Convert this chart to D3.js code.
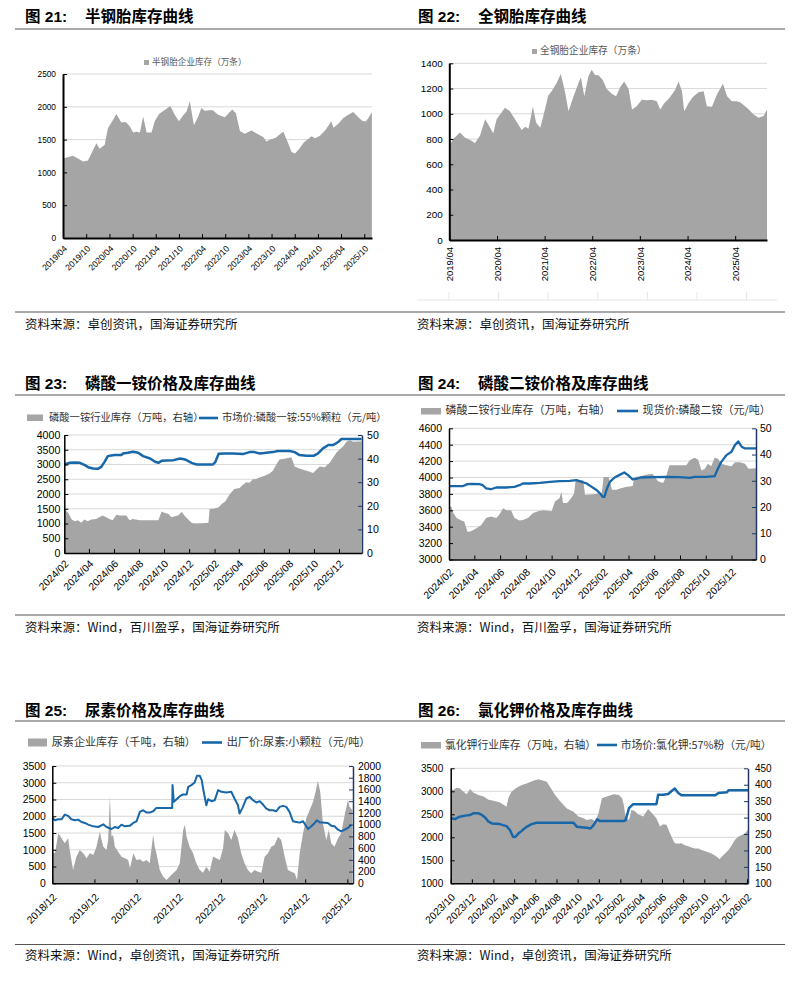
<!DOCTYPE html>
<html><head><meta charset="utf-8">
<script src="https://cdn.jsdelivr.net/npm/d3@7/dist/d3.min.js"></script>
<style>body{margin:0;background:#fff;} svg{display:block;background:#fff;}</style>
</head><body>
<svg id="c" width="809" height="981"></svg>
<script>
// ===================== DATA =====================
// 图21 半钢胎企业库存（万条）
const semiSteelInventory = [
["2019-04-01",1210],["2019-06-19",1253],["2019-09-06",1166],["2019-10-15",1180],["2019-12-20",1445],["2020-01-15",1359],["2020-02-24",1420],["2020-03-20",1673],["2020-04-29",1800],["2020-05-25",1891],["2020-07-04",1760],["2020-08-08",1770],["2020-09-09",1700],["2020-10-05",1608],["2020-11-01",1620],["2020-11-27",1610],["2020-12-23",1851],["2021-01-19",1610],["2021-02-27",1610],["2021-03-24",1780],["2021-04-27",1890],["2021-06-11",1950],["2021-07-25",2013],["2021-08-29",1880],["2021-10-01",1780],["2021-11-04",1870],["2021-11-30",1930],["2021-12-26",2084],["2022-01-27",1720],["2022-03-01",1850],["2022-03-27",1980],["2022-04-22",1940],["2022-06-22",1950],["2022-08-06",1880],["2022-09-28",1840],["2022-11-25",1960],["2022-12-24",1900],["2023-01-25",1630],["2023-03-04",1590],["2023-04-26",1640],["2023-06-17",1580],["2023-07-27",1540],["2023-08-22",1470],["2023-09-23",1500],["2023-11-04",1530],["2023-12-06",1580],["2024-01-02",1620],["2024-02-10",1440],["2024-03-07",1310],["2024-04-03",1290],["2024-05-07",1360],["2024-06-13",1460],["2024-07-16",1510],["2024-08-12",1550],["2024-09-08",1520],["2024-10-17",1560],["2024-11-26",1640],["2024-12-22",1710],["2025-01-13",1780],["2025-02-01",1680],["2025-03-10",1740],["2025-04-19",1830],["2025-05-22",1870],["2025-07-06",1920],["2025-08-15",1840],["2025-09-19",1780],["2025-10-15",1780],["2025-11-03",1830],["2025-11-30",1920]];
const semiXTicks = ["2019/04","2019/10","2020/04","2020/10","2021/04","2021/10","2022/04","2022/10","2023/04","2023/10","2024/04","2024/10","2025/04","2025/10"];
const semiYTicks = [0,500,1000,1500,2000,2500];

// 图22 全钢胎企业库存（万条）
const allSteelInventory = [
["2019-04-01",746],["2019-05-01",800],["2019-06-21",851],["2019-07-29",812],["2019-09-19",786],["2019-10-14",767],["2019-11-22",825],["2020-01-01",956],["2020-02-08",890],["2020-03-03",846],["2020-03-29",956],["2020-04-24",995],["2020-06-01",1047],["2020-07-09",1021],["2020-08-17",956],["2020-10-07",872],["2020-11-03",898],["2020-11-28",882],["2021-01-01",1055],["2021-01-26",929],["2021-02-26",890],["2021-03-22",982],["2021-04-29",1144],["2021-05-25",1178],["2021-07-02",1243],["2021-08-03",1316],["2021-09-06",1165],["2021-10-01",1021],["2021-11-09",1139],["2021-12-17",1243],["2022-01-04",1290],["2022-01-30",1139],["2022-03-02",1295],["2022-03-28",1348],["2022-04-22",1308],["2022-05-18",1306],["2022-06-20",1269],["2022-07-21",1196],["2022-08-29",1159],["2022-10-01",1139],["2022-11-02",1212],["2022-12-02",1256],["2023-01-05",1196],["2023-01-31",1034],["2023-03-08",1060],["2023-04-16",1112],["2023-05-24",1107],["2023-07-01",1112],["2023-08-09",1099],["2023-09-04",1034],["2023-10-04",1081],["2023-11-14",1125],["2023-12-28",1191],["2024-01-23",1256],["2024-02-18",1178],["2024-03-06",1021],["2024-04-09",1086],["2024-05-11",1133],["2024-06-24",1170],["2024-08-02",1178],["2024-08-27",1060],["2024-10-05",1055],["2024-11-12",1152],["2024-12-28",1238],["2025-01-29",1139],["2025-03-07",1099],["2025-04-14",1099],["2025-05-09",1091],["2025-06-30",1047],["2025-08-20",995],["2025-09-28",969],["2025-11-06",982],["2025-12-01",1034]];
const allXTicks = ["2019/04","2020/04","2021/04","2022/04","2023/04","2024/04","2025/04"];
const allYTicks = [0,200,400,600,800,1000,1200,1400];

// 图23 磷酸一铵
const mapPrice = [
["2024-02-01",3000],["2024-02-15",3057],["2024-02-27",3068],["2024-03-10",3057],["2024-03-22",2977],["2024-03-30",2909],["2024-04-11",2864],["2024-04-23",2852],["2024-05-01",2920],["2024-05-09",3091],["2024-05-17",3284],["2024-05-25",3307],["2024-06-03",3318],["2024-06-19",3318],["2024-06-23",3375],["2024-07-05",3398],["2024-07-17",3432],["2024-07-30",3398],["2024-08-11",3284],["2024-08-28",3205],["2024-09-09",3091],["2024-09-17",3057],["2024-09-25",3125],["2024-10-07",3136],["2024-10-24",3148],["2024-11-09",3205],["2024-11-21",3170],["2024-12-07",3057],["2024-12-19",3000],["2025-01-13",3000],["2025-01-28",3000],["2025-02-03",3091],["2025-02-11",3364],["2025-02-26",3375],["2025-03-18",3375],["2025-04-11",3352],["2025-04-27",3420],["2025-05-09",3420],["2025-05-22",3375],["2025-06-07",3398],["2025-06-23",3420],["2025-07-05",3455],["2025-08-03",3455],["2025-08-15",3420],["2025-08-27",3318],["2025-09-13",3295],["2025-09-30",3295],["2025-10-11",3375],["2025-10-23",3545],["2025-11-05",3659],["2025-11-17",3659],["2025-11-30",3773],["2025-12-07",3864],["2025-12-27",3864],["2026-01-25",3864]];
const mapInventory = [
["2024-02-01",18.6],["2024-02-11",17.0],["2024-02-19",14.2],["2024-02-27",13.5],["2024-03-05",13.9],["2024-03-13",12.8],["2024-03-21",14.2],["2024-03-29",13.5],["2024-04-07",14.2],["2024-04-19",14.4],["2024-04-27",15.3],["2024-05-05",15.9],["2024-05-13",15.2],["2024-05-21",14.4],["2024-05-29",13.9],["2024-06-07",16.2],["2024-06-15",15.9],["2024-07-01",15.9],["2024-07-09",13.9],["2024-07-17",14.4],["2024-08-03",13.9],["2024-09-17",13.9],["2024-09-25",17.6],["2024-10-03",17.0],["2024-10-11",16.6],["2024-10-19",15.2],["2024-10-27",15.6],["2024-11-05",16.0],["2024-11-13",17.4],["2024-11-21",15.6],["2024-11-29",14.2],["2024-12-07",12.8],["2024-12-15",12.4],["2025-01-13",12.7],["2025-01-17",12.8],["2025-01-20",18.6],["2025-01-30",18.8],["2025-02-11",19.4],["2025-02-19",20.9],["2025-02-27",21.8],["2025-03-09",24.7],["2025-03-21",27.1],["2025-04-03",27.5],["2025-04-11",28.9],["2025-04-19",30.0],["2025-04-27",29.8],["2025-05-05",31.2],["2025-05-13",31.4],["2025-05-21",32.0],["2025-06-03",32.7],["2025-06-15",33.7],["2025-06-23",34.9],["2025-07-01",37.4],["2025-07-09",39.6],["2025-07-21",39.9],["2025-07-30",40.3],["2025-08-07",40.6],["2025-08-15",36.7],["2025-08-23",36.0],["2025-09-05",35.3],["2025-09-17",34.6],["2025-09-29",33.9],["2025-10-07",35.3],["2025-10-15",36.7],["2025-10-27",36.3],["2025-11-09",38.4],["2025-11-17",40.5],["2025-11-25",42.6],["2025-12-03",44.0],["2025-12-11",45.1],["2025-12-19",47.1],["2025-12-27",47.8],["2026-01-05",47.1],["2026-01-25",47.4]];
const mapXTicks = ["2024/02","2024/04","2024/06","2024/08","2024/10","2024/12","2025/02","2025/04","2025/06","2025/08","2025/10","2025/12"];
const mapLeftTicks = [0,500,1000,1500,2000,2500,3000,3500,4000];
const mapRightTicks = [0,10,20,30,40,50];

// 图24 磷酸二铵
const dapPrice = [
["2024-02-01",3894],["2024-02-15",3894],["2024-03-04",3894],["2024-03-16",3919],["2024-03-24",3923],["2024-04-13",3919],["2024-04-21",3906],["2024-04-29",3866],["2024-05-10",3857],["2024-05-23",3878],["2024-06-16",3878],["2024-07-05",3886],["2024-07-17",3906],["2024-07-25",3927],["2024-08-10",3927],["2024-09-03",3935],["2024-09-27",3947],["2024-10-20",3955],["2024-11-13",3959],["2024-11-29",3967],["2024-12-11",3947],["2024-12-23",3927],["2025-01-04",3886],["2025-01-16",3845],["2025-01-24",3804],["2025-01-30",3764],["2025-02-03",3764],["2025-02-09",3866],["2025-02-16",3947],["2025-02-27",4000],["2025-03-10",4029],["2025-03-22",4061],["2025-03-31",4029],["2025-04-11",3976],["2025-04-19",3984],["2025-04-30",4000],["2025-05-28",4004],["2025-06-29",4008],["2025-07-31",4004],["2025-08-24",3996],["2025-09-05",4008],["2025-10-02",4008],["2025-10-22",4016],["2025-10-30",4110],["2025-11-07",4191],["2025-11-19",4273],["2025-12-01",4314],["2025-12-09",4395],["2025-12-17",4440],["2025-12-25",4375],["2026-01-02",4354],["2026-01-28",4354]];
const dapInventory = [
["2024-02-01",20.2],["2024-02-07",20.0],["2024-02-11",17.7],["2024-02-19",15.8],["2024-03-01",14.9],["2024-03-08",14.5],["2024-03-16",10.5],["2024-03-24",10.8],["2024-04-05",11.8],["2024-04-17",13.1],["2024-04-29",15.8],["2024-05-10",16.4],["2024-05-23",15.8],["2024-05-30",17.1],["2024-06-08",19.5],["2024-06-16",18.8],["2024-06-27",18.8],["2024-07-05",15.8],["2024-07-17",14.9],["2024-07-25",15.1],["2024-08-06",15.8],["2024-08-18",17.7],["2024-08-30",18.4],["2024-09-11",18.8],["2024-10-01",18.4],["2024-10-09",22.1],["2024-10-20",23.4],["2024-10-24",25.9],["2024-10-28",21.5],["2024-11-06",21.5],["2024-11-10",22.1],["2024-11-18",23.8],["2024-11-23",25.1],["2024-11-27",30.2],["2024-12-15",30.2],["2024-12-19",24.7],["2025-01-08",24.9],["2025-01-28",25.3],["2025-02-01",31.4],["2025-02-13",31.4],["2025-02-21",26.6],["2025-03-03",26.6],["2025-03-14",27.2],["2025-03-26",27.6],["2025-04-11",28.0],["2025-04-15",31.4],["2025-04-27",31.6],["2025-05-12",32.3],["2025-05-28",32.7],["2025-06-10",29.8],["2025-06-22",29.2],["2025-06-29",31.5],["2025-07-07",35.9],["2025-08-16",35.9],["2025-08-24",37.8],["2025-09-05",38.8],["2025-09-13",38.0],["2025-09-21",33.9],["2025-09-29",34.6],["2025-10-06",36.5],["2025-10-14",35.5],["2025-10-22",38.8],["2025-10-30",38.4],["2025-11-07",36.5],["2025-11-19",35.9],["2025-12-01",35.5],["2025-12-09",37.1],["2025-12-21",37.1],["2026-01-02",36.5],["2026-01-10",34.6],["2026-01-28",34.8]];
const dapXTicks = ["2024/02","2024/04","2024/06","2024/08","2024/10","2024/12","2025/02","2025/04","2025/06","2025/08","2025/10","2025/12"];
const dapLeftTicks = [3000,3200,3400,3600,3800,4000,4200,4400,4600];
const dapRightTicks = [0,10,20,30,40,50];

// 图25 尿素
const ureaPrice = [
["2018-12-01",1950],["2018-12-24",1880],["2019-01-22",1910],["2019-02-20",1910],["2019-03-19",2050],["2019-04-17",2010],["2019-05-16",1910],["2019-06-14",1880],["2019-07-13",1900],["2019-08-11",1830],["2019-09-10",1800],["2019-10-08",1750],["2019-11-21",1700],["2020-01-03",1680],["2020-02-16",1760],["2020-03-15",1680],["2020-04-27",1620],["2020-05-26",1680],["2020-06-24",1650],["2020-07-23",1750],["2020-08-21",1700],["2020-10-04",1720],["2020-11-02",1800],["2020-11-30",1850],["2020-12-29",2130],["2021-01-27",2180],["2021-02-25",2110],["2021-03-24",2110],["2021-04-23",2150],["2021-05-21",2250],["2021-10-05",2250],["2021-10-08",2930],["2021-10-19",2430],["2021-11-12",2510],["2021-12-10",2600],["2022-01-08",2650],["2022-02-07",2650],["2022-02-21",2880],["2022-03-20",2930],["2022-04-18",3010],["2022-05-08",3210],["2022-06-01",3210],["2022-06-18",3080],["2022-07-05",2730],["2022-07-28",2330],["2022-08-12",2510],["2022-09-10",2450],["2022-10-09",2480],["2022-11-07",2780],["2022-12-06",2730],["2023-01-18",2710],["2023-03-01",2730],["2023-03-29",2530],["2023-04-28",2330],["2023-05-12",2080],["2023-06-10",2280],["2023-07-09",2530],["2023-08-07",2580],["2023-09-06",2480],["2023-10-04",2410],["2023-11-02",2450],["2023-12-01",2350],["2023-12-30",2230],["2024-01-28",2180],["2024-02-26",2180],["2024-03-25",2150],["2024-04-23",2280],["2024-05-22",2310],["2024-06-20",2280],["2024-07-18",2130],["2024-08-17",1850],["2024-09-15",1830],["2024-10-14",1810],["2024-11-12",1850],["2024-12-10",1700],["2024-12-25",1620],["2025-01-23",1700],["2025-02-21",1800],["2025-03-12",1880],["2025-04-04",1820],["2025-06-15",1800],["2025-07-14",1720],["2025-08-12",1700],["2025-09-11",1600],["2025-10-09",1550],["2025-11-08",1600],["2025-12-06",1650],["2026-01-04",1750]];
const ureaInventory = [
["2018-12-01",540],["2018-12-24",511],["2019-01-22",852],["2019-02-20",767],["2019-03-19",682],["2019-04-17",767],["2019-05-01",568],["2019-05-30",227],["2019-06-28",454],["2019-07-27",568],["2019-08-26",511],["2019-09-24",426],["2019-10-22",511],["2019-11-21",483],["2019-12-19",625],["2020-01-17",880],["2020-02-01",738],["2020-02-16",625],["2020-03-15",568],["2020-03-29",738],["2020-04-13",1477],["2020-04-27",795],["2020-05-11",824],["2020-05-26",625],["2020-06-24",540],["2020-07-23",454],["2020-08-21",426],["2020-09-19",398],["2020-10-04",256],["2020-11-02",511],["2020-11-30",398],["2020-12-29",409],["2021-01-27",369],["2021-02-25",398],["2021-03-24",341],["2021-04-23",824],["2021-05-07",625],["2021-05-21",511],["2021-06-19",227],["2021-07-18",114],["2021-08-16",57],["2021-09-15",114],["2021-10-13",170],["2021-11-12",227],["2021-12-10",341],["2022-01-08",909],["2022-01-23",994],["2022-02-07",795],["2022-03-05",625],["2022-04-04",511],["2022-05-02",341],["2022-06-01",227],["2022-06-29",182],["2022-07-28",284],["2022-08-26",199],["2022-09-24",454],["2022-10-23",426],["2022-11-21",398],["2022-12-20",596],["2023-01-04",909],["2023-02-02",852],["2023-03-01",738],["2023-03-29",909],["2023-04-28",767],["2023-05-26",511],["2023-06-24",341],["2023-07-23",227],["2023-08-21",170],["2023-09-19",227],["2023-10-18",199],["2023-11-17",182],["2023-12-15",454],["2024-01-13",511],["2024-02-11",625],["2024-03-10",653],["2024-04-09",795],["2024-05-07",738],["2024-06-06",454],["2024-07-04",227],["2024-08-02",199],["2024-09-01",170],["2024-09-21",57],["2024-10-14",511],["2024-11-12",852],["2024-12-10",1108],["2025-01-09",1250],["2025-02-07",1392],["2025-03-01",1562],["2025-03-20",1744],["2025-04-10",1562],["2025-05-03",1022],["2025-06-01",738],["2025-06-24",909],["2025-07-14",682],["2025-08-12",625],["2025-09-11",767],["2025-10-09",852],["2025-11-08",1164],["2025-12-06",1420],["2025-12-20",1306],["2026-01-13",1250]];
const ureaXTicks = ["2018/12","2019/12","2020/12","2021/12","2022/12","2023/12","2024/12","2025/12"];
const ureaLeftTicks = [0,500,1000,1500,2000,2500,3000,3500];
const ureaRightTicks = [0,200,400,600,800,1000,1200,1400,1600,1800,2000];

// 图26 氯化钾
const potashPrice = [
["2023-10-01",2412],["2023-10-13",2397],["2023-10-27",2449],["2023-11-12",2471],["2023-11-26",2485],["2023-12-05",2522],["2023-12-20",2522],["2023-12-30",2485],["2024-01-09",2427],["2024-01-18",2339],["2024-01-28",2302],["2024-02-20",2287],["2024-02-29",2265],["2024-03-10",2243],["2024-03-20",2155],["2024-03-29",2007],["2024-04-04",2007],["2024-04-13",2081],["2024-04-23",2140],["2024-04-28",2177],["2024-05-07",2228],["2024-05-21",2287],["2024-06-05",2316],["2024-09-19",2316],["2024-09-29",2228],["2024-10-18",2214],["2024-10-27",2206],["2024-11-07",2191],["2024-11-16",2265],["2024-11-26",2390],["2024-12-05",2353],["2025-02-11",2353],["2025-02-16",2375],["2025-02-26",2632],["2025-03-10",2721],["2025-05-16",2721],["2025-05-21",2927],["2025-06-05",2927],["2025-06-19",2941],["2025-06-28",3000],["2025-07-08",3059],["2025-07-18",2963],["2025-07-27",2912],["2025-11-01",2912],["2025-11-11",2963],["2025-12-05",2978],["2025-12-10",3022],["2026-02-04",3022]];
const potashInventory = [
["2023-10-01",387],["2023-10-09",384],["2023-10-18",391],["2023-10-27",389],["2023-11-07",379],["2023-11-16",371],["2023-11-26",387],["2023-12-05",376],["2023-12-20",369],["2024-01-04",364],["2024-01-18",354],["2024-02-02",351],["2024-02-20",346],["2024-03-10",333],["2024-03-15",359],["2024-03-24",379],["2024-04-08",391],["2024-04-23",399],["2024-05-07",404],["2024-05-26",412],["2024-06-10",417],["2024-06-19",414],["2024-07-04",409],["2024-07-13",394],["2024-07-28",369],["2024-08-12",349],["2024-08-31",328],["2024-09-19",318],["2024-10-03",303],["2024-10-18",298],["2024-10-27",293],["2024-11-11",296],["2024-11-21",288],["2024-11-30",313],["2024-12-10",359],["2024-12-24",364],["2025-01-13",371],["2025-01-28",369],["2025-02-06",359],["2025-02-11",338],["2025-02-16",303],["2025-02-26",293],["2025-03-05",323],["2025-03-14",320],["2025-03-24",310],["2025-04-08",303],["2025-04-22",326],["2025-05-06",310],["2025-05-16",298],["2025-05-26",273],["2025-06-05",280],["2025-06-14",278],["2025-06-24",252],["2025-07-03",232],["2025-07-08",222],["2025-07-18",220],["2025-07-27",222],["2025-08-06",216],["2025-08-16",213],["2025-08-25",209],["2025-09-04",206],["2025-09-14",206],["2025-09-23",201],["2025-10-08",196],["2025-10-22",191],["2025-11-06",181],["2025-11-14",173],["2025-11-20",181],["2025-11-30",191],["2025-12-10",201],["2025-12-19",216],["2025-12-28",232],["2026-01-07",242],["2026-01-17",247],["2026-01-26",252],["2026-02-04",262]];
const potashXTicks = ["2023/10","2023/12","2024/02","2024/04","2024/06","2024/08","2024/10","2024/12","2025/02","2025/04","2025/06","2025/08","2025/10","2025/12","2026/02"];
const potashLeftTicks = [1000,1500,2000,2500,3000,3500];
const potashRightTicks = [100,150,200,250,300,350,400,450];

// ===================== RENDER =====================
const svg = d3.select('#c');
const parse = d3.timeParse('%Y-%m-%d');
const parseTick = d3.timeParse('%Y/%m');
const fmtTick = d3.timeFormat('%Y/%m');
const fmtNum = d3.format('d');
const NUM = "'Liberation Sans', Arial, 'Noto Sans CJK SC', sans-serif";
const CJK = "'Noto Sans CJK SC', sans-serif";
const AREA = '#a5a5a5', BLUE = '#1767a9', GRID = '#d9d9d9', NAVY = '#1f3864';

function header(x, y, num, title) {
  svg.append('text').attr('x', x).attr('y', y).attr('font-family', NUM).attr('font-weight', 'bold')
    .attr('font-size', 15.5).attr('fill', '#000').text('图 ' + num + ':');
  svg.append('text').attr('x', x + 60).attr('y', y).attr('font-family', CJK).attr('font-weight', 'bold')
    .attr('font-size', 15.5).attr('fill', '#000').text(title);
}
function source(x, y, text) {
  svg.append('text').attr('x', x).attr('y', y).attr('font-family', CJK).attr('font-size', 12.5)
    .attr('fill', '#111').text(text);
}
function hline(y) {
  svg.append('line').attr('x1', 15).attr('x2', 785).attr('y1', y).attr('y2', y)
    .attr('stroke', '#555').attr('stroke-width', 1.2);
}
function styleAxis(g, color, width, font, size) {
  g.attr('font-family', font).attr('font-size', size);
  g.select('.domain').attr('stroke', color).attr('stroke-width', width);
  g.selectAll('.tick line').attr('stroke', color).attr('stroke-width', 1);
  g.selectAll('.tick text').attr('fill', '#000');
}

function drawSingle(o) {
  const g = svg.append('g');
  const x = d3.scaleTime().domain(o.xDomain.map(parse)).range([o.left, o.right]);
  const y = d3.scaleLinear().domain(o.yDomain).range([o.bottom, o.top]);
  g.selectAll('line.grid').data(o.yTicks).join('line').attr('class', 'grid')
    .attr('x1', o.left).attr('x2', o.right).attr('y1', d => y(d)).attr('y2', d => y(d))
    .attr('stroke', GRID).attr('stroke-width', 1);
  const area = d3.area().x(d => x(parse(d[0]))).y0(y(o.yDomain[0])).y1(d => y(d[1]));
  g.append('path').datum(o.data).attr('d', area).attr('fill', AREA);
  const ax = g.append('g').attr('transform', `translate(${o.left},0)`)
    .call(d3.axisLeft(y).tickValues(o.yTicks).tickFormat(fmtNum).tickSize(-4).tickSizeOuter(0).tickPadding(o.padL));
  styleAxis(ax, '#000', 2, NUM, o.yFont);
  const bx = g.append('g').attr('transform', `translate(0,${o.bottom})`)
    .call(d3.axisBottom(x).tickValues(o.xTicks.map(parseTick)).tickSize(-4).tickSizeOuter(0).tickFormat(fmtTick));
  styleAxis(bx, '#000', 2, NUM, o.xFont);
  bx.selectAll('.tick text').attr('x', 0).attr('y', 0).attr('dy', '0.35em').attr('text-anchor', 'end')
    .attr('transform', `translate(${o.lx},${o.ly}) rotate(${o.rot})`);
  g.append('rect').attr('x', o.leg.x).attr('y', o.leg.y - o.leg.s).attr('width', o.leg.s).attr('height', o.leg.s).attr('fill', AREA);
  g.append('text').attr('x', o.leg.x + o.leg.s + 3).attr('y', o.leg.ty).attr('font-family', CJK)
    .attr('font-size', o.leg.size).attr('fill', '#595959').text(o.leg.text);
}

function drawDual(o) {
  const g = svg.append('g');
  const x = d3.scaleTime().domain(o.xDomain.map(parse)).range([o.left, o.right]);
  const yL = d3.scaleLinear().domain(o.yLDomain).range([o.bottom, o.top]);
  const yR = d3.scaleLinear().domain(o.yRDomain).range([o.bottom, o.top]);
  g.selectAll('line.grid').data(o.yLTicks).join('line').attr('class', 'grid')
    .attr('x1', o.left).attr('x2', o.right).attr('y1', d => yL(d)).attr('y2', d => yL(d))
    .attr('stroke', GRID).attr('stroke-width', 1);
  const area = d3.area().x(d => x(parse(d[0]))).y0(yR(o.yRDomain[0])).y1(d => yR(d[1]));
  g.append('path').datum(o.inv).attr('d', area).attr('fill', AREA);
  const line = d3.line().x(d => x(parse(d[0]))).y(d => yL(d[1]));
  g.append('path').datum(o.price).attr('d', line).attr('fill', 'none').attr('stroke', BLUE)
    .attr('stroke-width', o.lw).attr('stroke-linejoin', 'round');
  const ax = g.append('g').attr('transform', `translate(${o.left},0)`)
    .call(d3.axisLeft(yL).tickValues(o.yLTicks).tickFormat(fmtNum).tickSize(-4).tickSizeOuter(0).tickPadding(o.padL));
  styleAxis(ax, '#000', 1.5, NUM, o.font);
  const rx = g.append('g').attr('transform', `translate(${o.right},0)`)
    .call(d3.axisRight(yR).tickValues(o.yRTicks).tickFormat(fmtNum).tickSize(-4).tickSizeOuter(0).tickPadding(o.padR));
  styleAxis(rx, NAVY, 1.5, NUM, o.font);
  const bx = g.append('g').attr('transform', `translate(0,${o.bottom})`)
    .call(d3.axisBottom(x).tickValues(o.xTicks.map(parseTick)).tickSize(-4).tickSizeOuter(0).tickFormat(fmtTick));
  styleAxis(bx, '#000', 1.5, NUM, o.xFont);
  bx.selectAll('.tick text').attr('x', 0).attr('y', 0).attr('dy', '0.35em').attr('text-anchor', 'end')
    .attr('transform', `translate(${o.lx},${o.ly}) rotate(-45)`);
  const L = o.leg;
  g.append('rect').attr('x', L.rx).attr('y', L.ry).attr('width', L.rw).attr('height', L.rh).attr('fill', AREA);
  g.append('text').attr('x', L.t1x).attr('y', L.ty).attr('font-family', CJK).attr('font-size', L.size)
    .attr('fill', '#333').text(L.t1);
  g.append('line').attr('x1', L.lx1).attr('x2', L.lx2).attr('y1', L.ly).attr('y2', L.ly)
    .attr('stroke', BLUE).attr('stroke-width', 2.6);
  g.append('text').attr('x', L.t2x).attr('y', L.ty).attr('font-family', CJK).attr('font-size', L.size)
    .attr('fill', '#333').text(L.t2);
}

// separators
[29, 312, 395, 615, 721, 944.5].forEach(hline);

// Row 1
header(25, 22, '21', '半钢胎库存曲线');
header(418, 22, '22', '全钢胎库存曲线');
source(25, 328.5, '资料来源：卓创资讯，国海证券研究所');
source(417, 328.5, '资料来源：卓创资讯，国海证券研究所');

drawSingle({ data: semiSteelInventory, xDomain: ['2019-04-01', '2025-12-01'], yDomain: [0, 2500],
  left: 63, right: 372, top: 74, bottom: 238, yTicks: semiYTicks, xTicks: semiXTicks,
  padL: 7, yFont: 8.3, xFont: 8.6, lx: 2, ly: 9, rot: -45,
  leg: { x: 144, y: 65, s: 5, ty: 64.7, size: 8.6, text: '半钢胎企业库存（万条）' } });

drawSingle({ data: allSteelInventory, xDomain: ['2019-04-01', '2025-12-01'], yDomain: [0, 1400],
  left: 449.3, right: 767, top: 63.3, bottom: 240, yTicks: allYTicks, xTicks: allXTicks,
  padL: 6.5, yFont: 9.9, xFont: 9.5, lx: 0, ly: 7, rot: -90,
  leg: { x: 532, y: 54, s: 5, ty: 54, size: 9.7, text: '全钢胎企业库存（万条）' } });

// faint table-border artefact under 图22
svg.append('line').attr('x1', 417).attr('x2', 777).attr('y1', 300).attr('y2', 300).attr('stroke', '#e6e6e6');
d3.range(7).forEach(i => svg.append('line').attr('x1', 449 + i * 49.6).attr('x2', 449 + i * 49.6)
  .attr('y1', 292).attr('y2', 300).attr('stroke', '#e6e6e6'));

// Row 2
header(25, 389, '23', '磷酸一铵价格及库存曲线');
header(418, 389, '24', '磷酸二铵价格及库存曲线');
source(25, 632, '资料来源：Wind，百川盈孚，国海证券研究所');
source(417, 632, '资料来源：Wind，百川盈孚，国海证券研究所');

drawDual({ price: mapPrice, inv: mapInventory, xDomain: ['2024-02-01', '2026-01-26'],
  yLDomain: [0, 4000], yRDomain: [0, 50], left: 64.3, right: 362, top: 435, bottom: 553,
  yLTicks: mapLeftTicks, yRTicks: mapRightTicks, xTicks: mapXTicks, padL: 4, padR: 5,
  font: 10.6, xFont: 10.3, lx: 2, ly: 9, lw: 2.5,
  leg: { rx: 27, ry: 414.5, rw: 16, rh: 6.5, t1x: 49, ty: 421, size: 10.3, lx1: 199, lx2: 218, ly: 418,
    t1: '磷酸一铵行业库存（万吨，右轴）', t2x: 222, t2: '市场价:磷酸一铵:55%颗粒（元/吨）' } });

drawDual({ price: dapPrice, inv: dapInventory, xDomain: ['2024-02-01', '2026-01-28'],
  yLDomain: [3000, 4600], yRDomain: [0, 50], left: 449, right: 756, top: 428.3, bottom: 559.5,
  yLTicks: dapLeftTicks, yRTicks: dapRightTicks, xTicks: dapXTicks, padL: 7, padR: 4,
  font: 10.5, xFont: 10.3, lx: 2, ly: 11, lw: 2.3,
  leg: { rx: 421, ry: 408, rw: 20, rh: 6.5, t1x: 445.5, ty: 414.4, size: 11, lx1: 617, lx2: 638, ly: 411,
    t1: '磷酸二铵行业库存（万吨，右轴）', t2x: 642.5, t2: '现货价:磷酸二铵（元/吨）' } });

// Row 3
header(25, 716, '25', '尿素价格及库存曲线');
header(418, 716, '26', '氯化钾价格及库存曲线');
source(25, 960, '资料来源：Wind，卓创资讯，国海证券研究所');
source(417, 960, '资料来源：Wind，卓创资讯，国海证券研究所');

drawDual({ price: ureaPrice, inv: ureaInventory, xDomain: ['2018-12-01', '2026-01-19'],
  yLDomain: [0, 3500], yRDomain: [0, 2000], left: 52.3, right: 353, top: 766, bottom: 883.3,
  yLTicks: ureaLeftTicks, yRTicks: ureaRightTicks, xTicks: ureaXTicks, padL: 6.5, padR: 5,
  font: 10.4, xFont: 10.3, lx: 2, ly: 12, lw: 2,
  leg: { rx: 28, ry: 738.5, rw: 19, rh: 8, t1x: 51.7, ty: 746, size: 11.1, lx1: 202, lx2: 222, ly: 742.5,
    t1: '尿素企业库存（千吨，右轴）', t2x: 226.7, t2: '出厂价:尿素:小颗粒（元/吨）' } });

drawDual({ price: potashPrice, inv: potashInventory, xDomain: ['2023-10-01', '2026-02-04'],
  yLDomain: [1000, 3500], yRDomain: [100, 450], left: 450.7, right: 748, top: 768.3, bottom: 883.3,
  yLTicks: potashLeftTicks, yRTicks: potashRightTicks, xTicks: potashXTicks, padL: 7.5, padR: 7,
  font: 10, xFont: 10.3, lx: 2, ly: 12, lw: 2.5,
  leg: { rx: 421, ry: 742, rw: 20, rh: 6.5, t1x: 445, ty: 748.7, size: 10.8, lx1: 597, lx2: 617, ly: 745,
    t1: '氯化钾行业库存（万吨，右轴）', t2x: 620.7, t2: '市场价:氯化钾:57%粉（元/吨）' } });
</script>
</body></html>
